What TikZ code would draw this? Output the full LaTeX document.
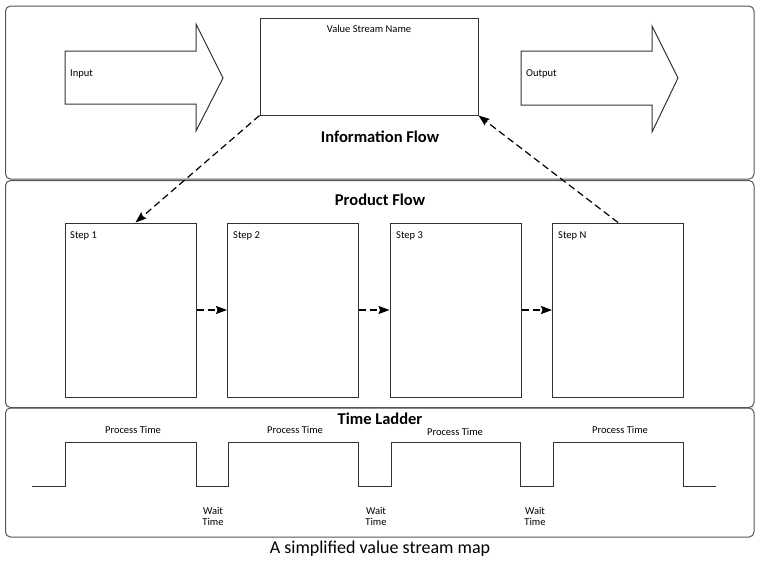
\documentclass[tikz,border=0pt]{standalone}
\usepackage{fontspec}
\setmainfont{Carlito}
\usetikzlibrary{arrows.meta}
\definecolor{ln}{HTML}{333333}
\definecolor{pn}{HTML}{555555}
\begin{document}
\begin{tikzpicture}[x=1pt,y=-1pt,
  panel/.style={draw=pn,line width=1pt,rounded corners=5pt},
  blk/.style={draw=ln,line width=1pt},
  stepbox/.style={draw=ln,line width=1pt,minimum width=131pt,minimum height=174pt,inner sep=0pt},
  small/.style={font=\fontsize{10.5}{11.5}\selectfont,text=black,inner sep=0pt},
  title/.style={font=\fontsize{16.5}{18}\selectfont\bfseries,text=black,inner sep=0pt},
  dashar/.style={draw=black,line width=1.2pt,dash pattern=on 7pt off 4pt,-{Stealth[length=11pt,width=8pt,inset=1.5pt]}},
]
\useasboundingbox (0,0) rectangle (760,563);
% panels
\draw[panel] (5.5,6) rectangle (754,179);
\draw[panel] (5.5,180.5) rectangle (754,407.5);
\draw[panel] (5.5,408) rectangle (754,537);
% input / output block arrows
\draw[blk] (65,51) -- (196,51) -- (196,24) -- (223,78) -- (196,131) -- (196,104) -- (65,104) -- cycle;
\draw[blk] (521,51) -- (652,51) -- (652,26) -- (678,78) -- (652,132) -- (652,105) -- (521,105) -- cycle;
\node[small,anchor=west] (in) at (70,74) {Input};
\node[small,anchor=west] (out) at (526,74) {Output};
% value stream box
\node[blk,minimum width=218pt,minimum height=97pt,inner sep=0pt] (vsn) at (369,66.5) {};
\node[small] (vsnl) at (369,29) {Value Stream Name};
\node[title] (info) at (380,137) {Information Flow};
\node[title] (prod) at (380,200) {Product Flow};
\node[title] (tl) at (380,419) {Time Ladder};
% steps
\node[stepbox] (s1) at (130.5,310) {};
\node[stepbox] (s2) at (293,310) {};
\node[stepbox] (s3) at (455.5,310) {};
\node[stepbox] (sN) at (618,310) {};
\node[small,anchor=west] at (70,236) {Step 1};
\node[small,anchor=west] at (233,236) {Step 2};
\node[small,anchor=west] at (396,236) {Step 3};
\node[small,anchor=west] at (558,236) {Step N};
% connectors
\draw[dashar] (vsn.south west) -- ([xshift=5pt]s1.north);
\draw[dashar] (sN.north) -- (vsn.south east);
\draw[dashar] (s1.east) -- (s2.west);
\draw[dashar] (s2.east) -- (s3.west);
\draw[dashar] (s3.east) -- (sN.west);
% time ladder
\draw[blk] (32,486) -- (65,486) -- (65,442) -- (196,442) -- (196,486) -- (228,486) -- (228,442) -- (358,442) -- (358,486) -- (391,486) -- (391,442) -- (520,442) -- (520,486) -- (553,486) -- (553,442) -- (683,442) -- (683,486) -- (716,486);
\node[small] at (133,430) {Process Time};
\node[small] at (295,430) {Process Time};
\node[small] at (455,432) {Process Time};
\node[small] at (620,430) {Process Time};
\node[small,align=center] at (213,516.5) {Wait\\Time};
\node[small,align=center] at (376,516.5) {Wait\\Time};
\node[small,align=center] at (535,516.5) {Wait\\Time};
\node[font=\fontsize{18}{20}\selectfont,inner sep=0pt] (cap) at (380,549) {A simplified value stream map};
\end{tikzpicture}
\end{document}
